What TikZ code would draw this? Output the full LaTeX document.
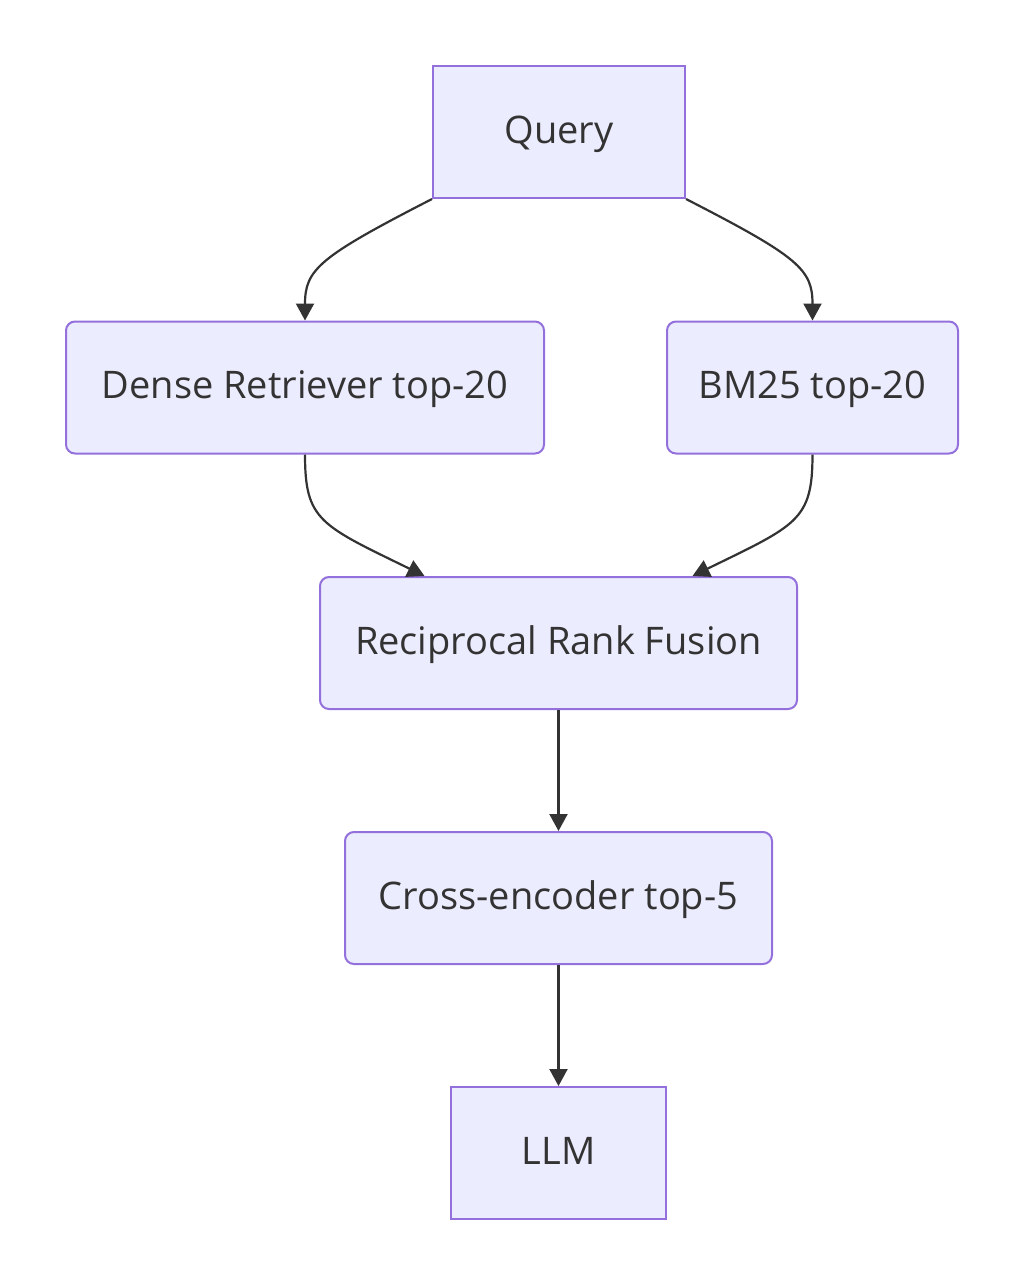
\documentclass[tikz,border=0pt]{standalone}
\usepackage{fontspec}
\setmainfont{Open Sans}
\usetikzlibrary{calc, positioning, arrows.meta}
\definecolor{BoxFill}{HTML}{ECECFF}
\definecolor{BoxLine}{HTML}{9370DB}
\definecolor{EdgeColour}{HTML}{333333}

\begin{document}
\begin{tikzpicture}[
  x=1pt, y=-1pt,
  font=\fontsize{38}{45}\selectfont,
  stagebox/.style={draw=BoxLine, fill=BoxFill, line width=2pt, minimum height=132pt, inner sep=0pt, align=center, text=EdgeColour, text height=26pt, text depth=4pt},
  roundstage/.style={stagebox, rounded corners=9pt},
  flowarrow/.style={draw=EdgeColour, line width=2.2pt, -{Triangle[length=17pt,width=18pt]}}
]
\useasboundingbox (0,0) rectangle (1024,1286);
\node[stagebox, minimum width=252pt] (query) at (559,132) {Query};
\node[roundstage, minimum width=478pt] (dense) at (305,387.5) {Dense Retriever top-20};
\node[roundstage, minimum width=291pt] (bm25) at (812.5,387.5) {BM25 top-20};
\node[roundstage, minimum width=477pt] (rrf) at (558.5,643) {Reciprocal Rank Fusion};
\node[roundstage, minimum width=427pt, below=121pt of rrf] (rerank) {Cross-encoder top-5};
\node[stagebox, minimum width=215pt, below=121pt of rerank] (llm) {LLM};
\draw[flowarrow] (query.south west) .. controls ($(query.south west)+(-113,58)$) and ($(dense.north)+(0,-51)$) .. (dense.north);
\draw[flowarrow] (query.south east) .. controls ($(query.south east)+(113,58)$) and ($(bm25.north)+(0,-51)$) .. (bm25.north);
\draw[flowarrow] (dense.south) .. controls ($(dense.south)+(0,66)$) and (320,525) .. ($(rrf.north)+(-134,0)$);
\draw[flowarrow] (bm25.south) .. controls ($(bm25.south)+(0,66)$) and (797,525) .. ($(rrf.north)+(134,0)$);
\draw[flowarrow] (rrf.south) -- (rerank.north);
\draw[flowarrow] (rerank.south) -- (llm.north);
\end{tikzpicture}
\end{document}
